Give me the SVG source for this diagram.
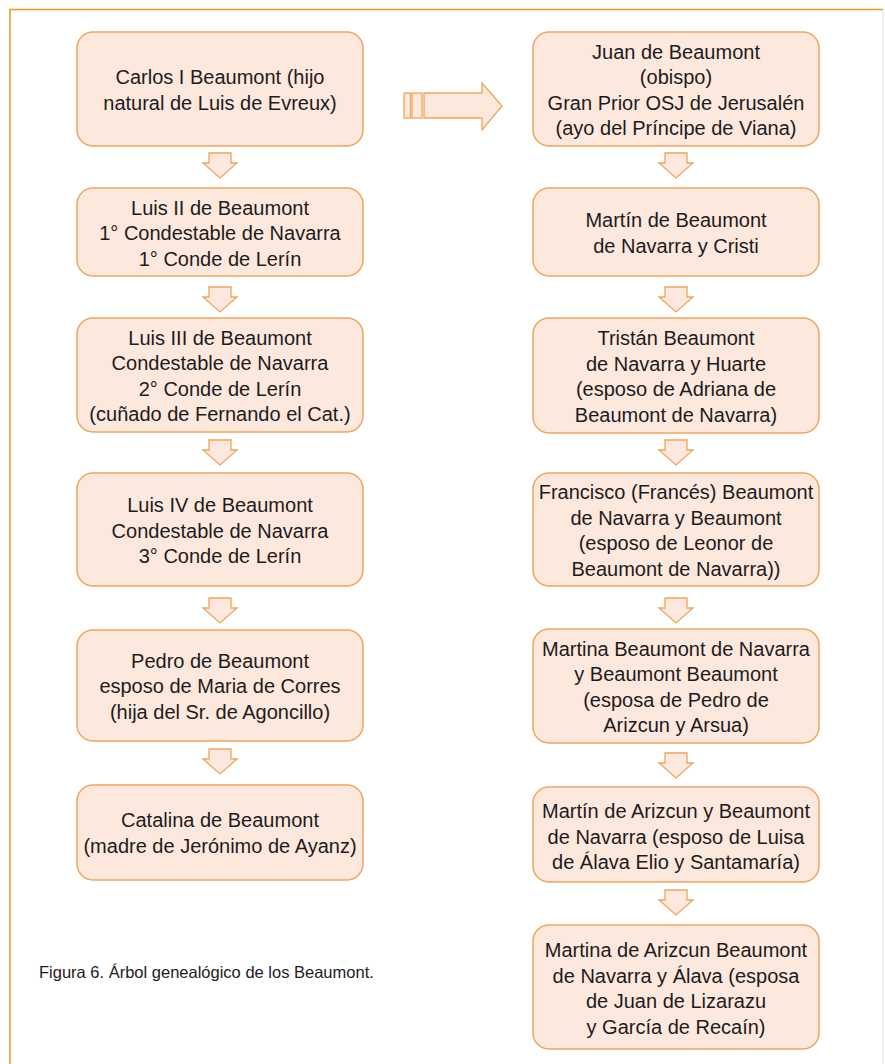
<svg xmlns="http://www.w3.org/2000/svg" xmlns:xlink="http://www.w3.org/1999/xlink" width="885" height="1064" viewBox="0 0 885 1064">
<style>
.box{fill:#fde8de;stroke:#f0a55c;stroke-width:1.5}
.arr{fill:#fde8de;stroke:#f0a55c;stroke-width:1.3;stroke-linejoin:miter}
.t{font-family:"Liberation Sans",Arial,sans-serif;font-size:20px;fill:#1e1b1c;text-anchor:middle}
.cap{font-family:"Liberation Sans",Arial,sans-serif;font-size:16.5px;fill:#1e1b1c}
</style>
<defs>
<path id="down" class="arr" d="M-11,0 H11 V10 H17 L0,25 L-17,10 H-11 Z"/>
</defs>
<rect width="885" height="1064" fill="#ffffff"/>
<path d="M10,1064 V9.5 H883" fill="none" stroke="#e8961e" stroke-width="1.5"/>
<path d="M883,9.5 V1064" fill="none" stroke="#e2e2e2" stroke-width="1"/>

<g id="connectors">
<use xlink:href="#down" x="220" y="153"/>
<use xlink:href="#down" x="220" y="287"/>
<use xlink:href="#down" x="220" y="440"/>
<use xlink:href="#down" x="220" y="598"/>
<use xlink:href="#down" x="220" y="749"/>
<use xlink:href="#down" x="676" y="153"/>
<use xlink:href="#down" x="676" y="287"/>
<use xlink:href="#down" x="676" y="440"/>
<use xlink:href="#down" x="676" y="598"/>
<use xlink:href="#down" x="676" y="753"/>
<use xlink:href="#down" x="676" y="890"/>
<g id="big-arrow">
<rect class="arr" x="404" y="93" width="6.5" height="25"/>
<rect class="arr" x="412" y="93" width="10" height="25"/>
<path class="arr" d="M424,93 H482 V83 L502,106 L482,130 V118 H424 Z"/>
</g>
</g>

<g id="carlos"><rect class="box" x="77" y="32" width="286" height="114" rx="16"/>
<text class="t"><tspan x="220" y="84">Carlos I Beaumont (hijo</tspan><tspan x="220" y="109.5">natural de Luis de Evreux)</tspan></text></g>

<g id="luis2"><rect class="box" x="77" y="188" width="286" height="88" rx="16"/>
<text class="t"><tspan x="220" y="214.5">Luis II de Beaumont</tspan><tspan x="220" y="240">1° Condestable de Navarra</tspan><tspan x="220" y="265.5">1° Conde de Lerín</tspan></text></g>

<g id="luis3"><rect class="box" x="77" y="318" width="286" height="114" rx="16"/>
<text class="t"><tspan x="220" y="344.75">Luis III de Beaumont</tspan><tspan x="220" y="370.25">Condestable de Navarra</tspan><tspan x="220" y="395.75">2° Conde de Lerín</tspan><tspan x="220" y="421.25">(cuñado de Fernando el Cat.)</tspan></text></g>

<g id="luis4"><rect class="box" x="77" y="473" width="286" height="113" rx="16"/>
<text class="t"><tspan x="220" y="512">Luis IV de Beaumont</tspan><tspan x="220" y="537.5">Condestable de Navarra</tspan><tspan x="220" y="563">3° Conde de Lerín</tspan></text></g>

<g id="pedro"><rect class="box" x="77" y="630" width="286" height="111" rx="16"/>
<text class="t"><tspan x="220" y="667.5">Pedro de Beaumont</tspan><tspan x="220" y="693">esposo de Maria de Corres</tspan><tspan x="220" y="718.5">(hija del Sr. de Agoncillo)</tspan></text></g>

<g id="catalina"><rect class="box" x="77" y="785" width="286" height="95" rx="16"/>
<text class="t"><tspan x="220" y="827">Catalina de Beaumont</tspan><tspan x="220" y="852.5">(madre de Jerónimo de Ayanz)</tspan></text></g>

<g id="juan"><rect class="box" x="533" y="32" width="286" height="114" rx="16"/>
<text class="t"><tspan x="676" y="58.75">Juan de Beaumont</tspan><tspan x="676" y="84.25">(obispo)</tspan><tspan x="676" y="109.75">Gran Prior OSJ de Jerusalén</tspan><tspan x="676" y="135.25">(ayo del Príncipe de Viana)</tspan></text></g>

<g id="martin"><rect class="box" x="533" y="188" width="286" height="88" rx="16"/>
<text class="t"><tspan x="676" y="227.25">Martín de Beaumont</tspan><tspan x="676" y="252.75">de Navarra y Cristi</tspan></text></g>

<g id="tristan"><rect class="box" x="533" y="318" width="286" height="115" rx="16"/>
<text class="t"><tspan x="676" y="345.25">Tristán Beaumont</tspan><tspan x="676" y="370.75">de Navarra y Huarte</tspan><tspan x="676" y="396.25">(esposo de Adriana de</tspan><tspan x="676" y="421.75">Beaumont de Navarra)</tspan></text></g>

<g id="francisco"><rect class="box" x="533" y="473" width="286" height="113" rx="16"/>
<text class="t"><tspan x="676" y="499.25">Francisco (Francés) Beaumont</tspan><tspan x="676" y="524.75">de Navarra y Beaumont</tspan><tspan x="676" y="550.25">(esposo de Leonor de</tspan><tspan x="676" y="575.75">Beaumont de Navarra))</tspan></text></g>

<g id="martina"><rect class="box" x="533" y="629" width="286" height="114" rx="16"/>
<text class="t"><tspan x="676" y="655.75">Martina Beaumont de Navarra</tspan><tspan x="676" y="681.25">y Beaumont Beaumont</tspan><tspan x="676" y="706.75">(esposa de Pedro de</tspan><tspan x="676" y="732.25">Arizcun y Arsua)</tspan></text></g>

<g id="martin-arizcun"><rect class="box" x="533" y="787" width="286" height="95" rx="16"/>
<text class="t"><tspan x="676" y="818">Martín de Arizcun y Beaumont</tspan><tspan x="676" y="843.5">de Navarra (esposo de Luisa</tspan><tspan x="676" y="869">de Álava Elio y Santamaría)</tspan></text></g>

<g id="martina-arizcun"><rect class="box" x="533" y="925" width="286" height="124" rx="16"/>
<text class="t"><tspan x="676" y="957">Martina de Arizcun Beaumont</tspan><tspan x="676" y="982.5">de Navarra y Álava (esposa</tspan><tspan x="676" y="1008">de Juan de Lizarazu</tspan><tspan x="676" y="1033.5">y García de Recaín)</tspan></text></g>

<text class="cap" x="39" y="978">Figura 6. Árbol genealógico de los Beaumont.</text>
</svg>
